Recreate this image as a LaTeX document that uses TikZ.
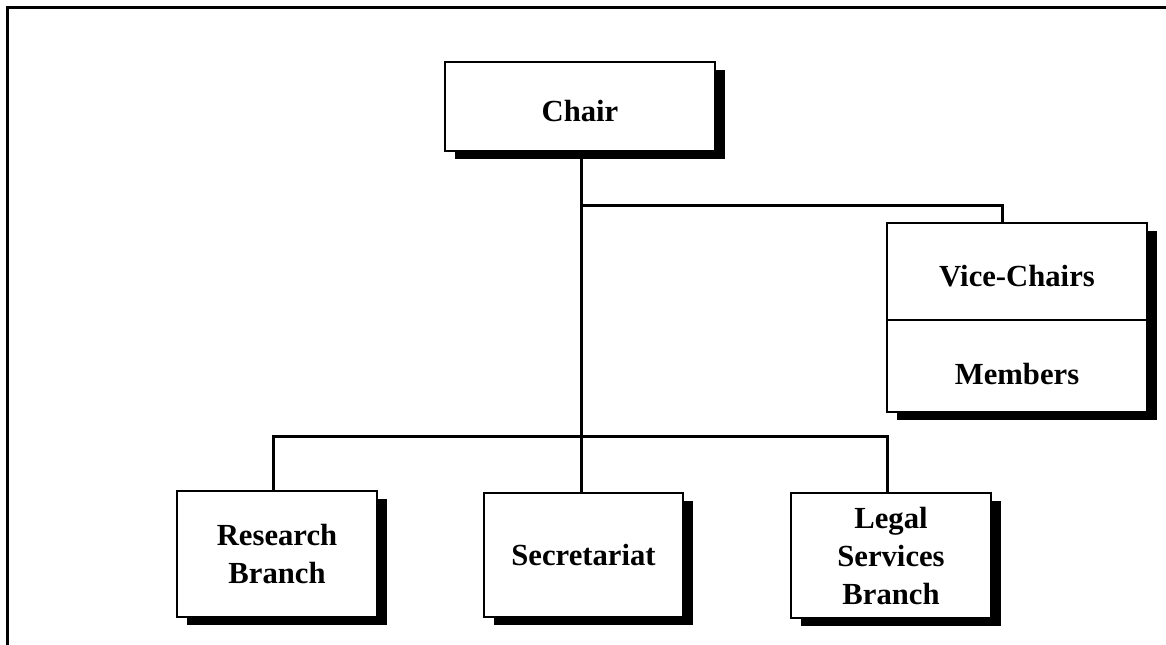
\documentclass[tikz,border=0pt]{standalone}
\usepackage{fontspec}
\setmainfont{Liberation Serif}
\usetikzlibrary{shadows}
\begin{document}
\begin{tikzpicture}[x=0.75pt,y=-0.75pt,
  orgbox/.style={draw=black, line width=1.5pt, fill=white, rectangle, inner sep=0pt,
    align=center, font=\fontsize{23}{28.5}\selectfont\bfseries},
  shadowed/.style={general shadow={fill=black, shadow xshift=7.5pt, shadow yshift=-6pt}},
  conn/.style={line width=2.25pt, line cap=rect},
  plaintext/.style={inner sep=0pt, font=\fontsize{23}{28.5}\selectfont\bfseries}]
\useasboundingbox (0,0) rectangle (1166,644);
% frame
\draw[line width=2.25pt] (7,650) -- (7,7) -- (1172,7);
% boxes
\node[orgbox, shadowed, minimum width=270*0.75pt, minimum height=89*0.75pt, text height=23pt, text depth=0pt] (chair) at (580,106.5) {Chair};
\node[orgbox, shadowed, minimum width=260*0.75pt, minimum height=189*0.75pt] (vbox) at (1017,317.5) {};
\draw[line width=1.5pt] (vbox.west |- 0,320) -- (vbox.east |- 0,320);
\node[plaintext] (vice) at (1017,276) {Vice-Chairs};
\node[plaintext] (members) at (1017,374) {Members};
\node[orgbox, shadowed, minimum width=200*0.75pt, minimum height=126*0.75pt] (research) at (277,554) {Research\\Branch};
\node[orgbox, shadowed, minimum width=199*0.75pt, minimum height=124*0.75pt] (sec) at (583.5,555) {Secretariat};
\node[orgbox, shadowed, minimum width=200*0.75pt, minimum height=125*0.75pt] (legal) at (891,555.5) {Legal\\Services\\Branch};
% connectors
\coordinate (vbus) at (581,205);
\coordinate (bus) at (581,436);
\draw[conn] (chair.south -| vbus) -- (sec.north -| vbus);
\draw[conn] (vbus) -| ([xshift=-11.25pt]vbox.north);
\draw[conn] ([xshift=-3pt]research.north) -- ([xshift=-3pt]research.north |- bus) -- ([xshift=-3pt]legal.north |- bus) -- ([xshift=-3pt]legal.north);
\end{tikzpicture}
\end{document}
